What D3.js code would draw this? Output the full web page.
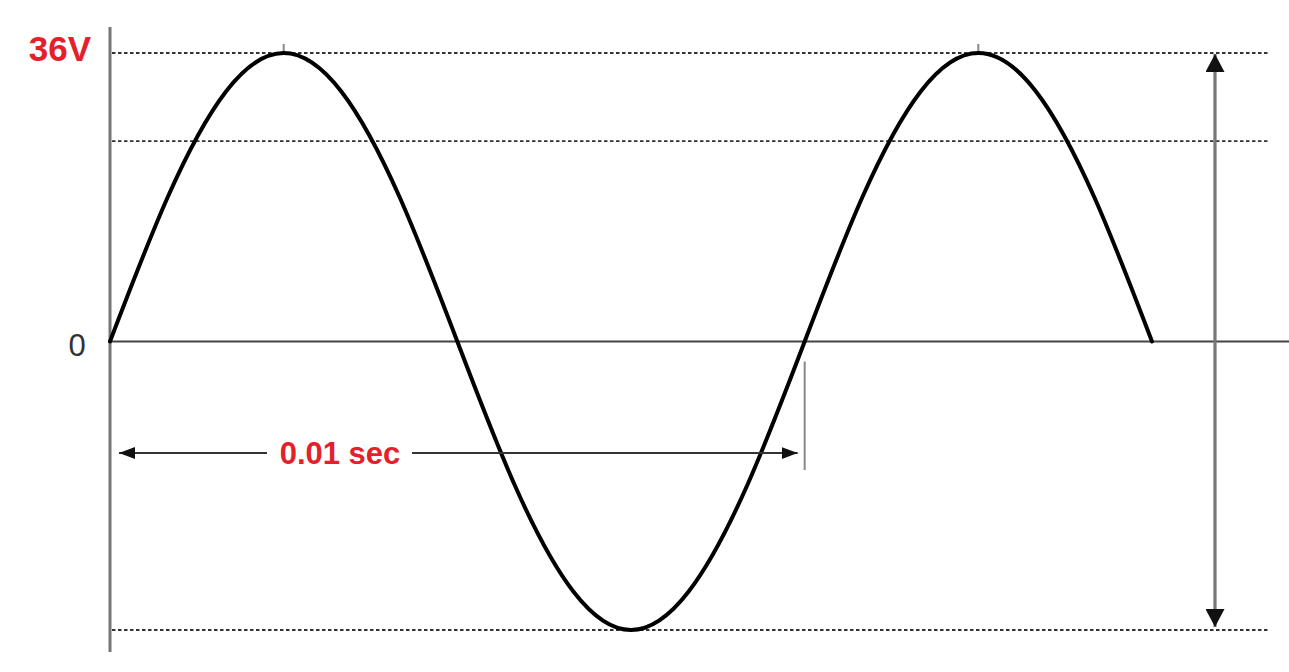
<!DOCTYPE html>
<html>
<head>
<meta charset="utf-8">
<script src="https://cdn.jsdelivr.net/npm/d3@7"></script>
<style>
  html, body { margin: 0; padding: 0; background: #fff; }
  svg { display: block; }
</style>
</head>
<body>
<svg id="chart" width="1289" height="672"></svg>
<script>
// ---- data ----
const timeMs   = [0, 0.83, 1.67, 2.5, 3.33, 4.17, 5, 5.83, 6.67, 7.5, 8.33, 9.17, 10, 10.83, 11.67, 12.5, 13.33, 14.17, 15];
const voltage  = [0, 18, 31.2, 36, 31.2, 18, 0, -18, -31.2, -36, -31.2, -18, 0, 18, 31.2, 36, 31.2, 18, 0];
const guideLevels = [36, 25, -36];       // dotted reference lines (V)
const peakTimes = [2.5, 12.5];           // small tick marks above peaks
const yLabels = [{v: 36, text: "36V", red: true}, {v: 0, text: "0", red: false}];
const periodMs = [0, 10];                // "0.01 sec" span
const periodLabel = "0.01 sec";
const ampRange = [36, -36];              // peak-to-peak arrow

// ---- scales ----
const svg = d3.select("#chart");
const x = d3.scaleLinear().domain([0, 15]).range([110, 1152]);
const y = d3.scaleLinear().domain([-36, 36]).range([630, 53]);
const RED = "#e3212b";

// arrow markers
const defs = svg.append("defs");
function marker(id, w, h) {
  defs.append("marker").attr("id", id)
    .attr("viewBox", `0 0 ${w} ${h}`).attr("refX", w).attr("refY", h / 2)
    .attr("markerWidth", w).attr("markerHeight", h)
    .attr("markerUnits", "userSpaceOnUse").attr("orient", "auto-start-reverse")
    .append("path").attr("d", `M0,0L${w},${h/2}L0,${h}Z`).attr("fill", "#111");
}
marker("arrH", 16, 12);
marker("arrV", 18, 19);

// dotted guide lines
svg.append("g").selectAll("line").data(guideLevels).join("line")
  .attr("x1", x(0) + 2).attr("x2", 1268)
  .attr("y1", d => y(d)).attr("y2", d => y(d))
  .attr("stroke", "#333").attr("stroke-width", 1.8)
  .attr("stroke-dasharray", "3.5,2.5");

// peak ticks
svg.append("g").selectAll("line").data(peakTimes).join("line")
  .attr("x1", d => x(d)).attr("x2", d => x(d))
  .attr("y1", y(36) - 9).attr("y2", y(36))
  .attr("stroke", "#888").attr("stroke-width", 2);

// vertical axis
svg.append("line")
  .attr("x1", x(0)).attr("x2", x(0)).attr("y1", 27).attr("y2", 652)
  .attr("stroke", "#777").attr("stroke-width", 3);

// zero line
svg.append("line")
  .attr("x1", x(0)).attr("x2", 1289).attr("y1", y(0)).attr("y2", y(0))
  .attr("stroke", "#444").attr("stroke-width", 2);

// period tick line
svg.append("line")
  .attr("x1", x(periodMs[1])).attr("x2", x(periodMs[1]))
  .attr("y1", y(0) + 20).attr("y2", 470)
  .attr("stroke", "#888").attr("stroke-width", 2);

// sine wave
const pts = timeMs.map((t, i) => [t, voltage[i]]);
svg.append("path")
  .datum(pts)
  .attr("d", d3.line().x(d => x(d[0])).y(d => y(d[1])).curve(d3.curveNatural))
  .attr("fill", "none").attr("stroke", "#000").attr("stroke-width", 4)
  .attr("stroke-linecap", "round");

// period arrow
const arrowY = 453;
svg.append("line")
  .attr("x1", x(periodMs[0]) + 9).attr("x2", x(periodMs[1]) - 7)
  .attr("y1", arrowY).attr("y2", arrowY)
  .attr("stroke", "#333").attr("stroke-width", 2.2)
  .attr("marker-start", "url(#arrH)").attr("marker-end", "url(#arrH)");
svg.append("rect")
  .attr("x", 267).attr("y", arrowY - 18).attr("width", 145).attr("height", 36)
  .attr("fill", "#fff");
svg.append("text")
  .attr("x", 340).attr("y", arrowY + 11)
  .attr("text-anchor", "middle")
  .attr("font-family", "Liberation Sans, Arial, sans-serif")
  .attr("font-weight", "bold").attr("font-size", 31)
  .attr("fill", RED).text(periodLabel);

// amplitude arrow
svg.append("line")
  .attr("x1", 1215).attr("x2", 1215)
  .attr("y1", y(ampRange[0]) + 1).attr("y2", y(ampRange[1]) - 3)
  .attr("stroke", "#777").attr("stroke-width", 3.2)
  .attr("marker-start", "url(#arrV)").attr("marker-end", "url(#arrV)");

// y labels
svg.append("g").selectAll("text").data(yLabels).join("text")
  .attr("x", d => d.red ? 60 : 77)
  .attr("y", d => d.red ? y(d.v) + 8 : y(d.v) + 14)
  .attr("text-anchor", "middle")
  .attr("font-family", "Liberation Sans, Arial, sans-serif")
  .attr("font-weight", d => d.red ? "bold" : "normal")
  .attr("font-size", d => d.red ? 35 : 31)
  .attr("fill", d => d.red ? RED : "#333")
  .text(d => d.text);
</script>
</body>
</html>
